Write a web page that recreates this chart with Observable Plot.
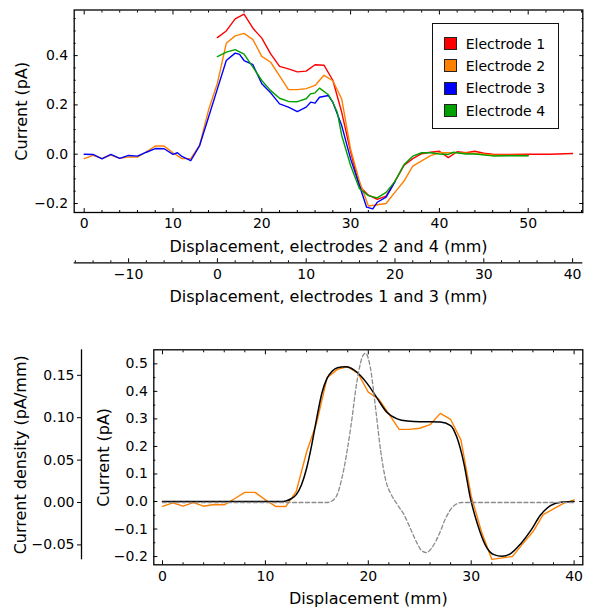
<!DOCTYPE html>
<html><head><meta charset="utf-8">
<script src="https://cdn.jsdelivr.net/npm/d3@7"></script>
<script src="https://cdn.jsdelivr.net/npm/@observablehq/plot@0.6"></script>
<style>
body{margin:0;background:#fff;}
#chart{position:relative;width:590px;height:608px;font-family:"DejaVu Sans",sans-serif;color:#000;}
#chart .layer{position:absolute;left:0;}
#legend{position:absolute;left:431.7px;top:22.7px;width:127.6px;height:106.6px;box-sizing:border-box;border:1.3px solid #111;background:#fff;}
#legend .item{position:absolute;left:0;height:22px;font-size:14px;line-height:22px;white-space:nowrap;}
#legend .sw{position:absolute;left:11.5px;top:4.5px;width:13px;height:13px;box-sizing:border-box;border:1px solid #222;}
#legend .lab{position:absolute;left:33px;top:0;}
</style></head><body><div id="chart"></div>
<script>
// ---------- data ----------
const electrodeNames = ["Electrode 1", "Electrode 2", "Electrode 3", "Electrode 4"];
const electrodeColors = ["#ff0000", "#ff8000", "#0000ff", "#00a000"];
const axisShift13 = 15; // electrodes 1 and 3 axis = electrodes 2 and 4 axis − 15 mm

// Electrode 1 (own axis: electrodes 1 and 3, mm)
const e1X = [0,1,2,3,4,5,6,7,8,9,10,11,12,13,14,15,16,17,18,19,20,21,22,23,24,25,26,27,28,29,30,31,33,35,37.5,40];
const e1Y = [0.473,0.500,0.549,0.568,0.511,0.471,0.407,0.356,0.346,0.334,0.337,0.363,0.361,0.300,0.170,0.010,-0.130,-0.166,-0.183,-0.170,-0.110,-0.046,-0.018,0.002,0.008,0.012,-0.014,0.010,0.006,0.012,0.004,0.000,-0.001,0.000,0.000,0.003];
// Electrode 2 (own axis: electrodes 2 and 4, mm)
const e2X = [0,1,2,3,4,5,6,7,8,9,10,11,12,13,14,15,16,17,18,19,20,21,22,23,24,25,26,27,28,29,30,31,32,34,35,36,37,38,39,40,42,44,46,48,50];
const e2Y = [-0.018,-0.005,-0.017,-0.004,-0.017,-0.011,-0.012,0.010,0.033,0.033,0.006,-0.018,-0.018,0.037,0.179,0.288,0.450,0.480,0.490,0.465,0.397,0.373,0.318,0.262,0.262,0.266,0.279,0.320,0.298,0.224,0.020,-0.110,-0.210,-0.200,-0.154,-0.110,-0.048,-0.027,-0.006,0.006,0.006,0.003,-0.003,-0.004,-0.005];
// Electrode 3 (own axis: electrodes 1 and 3, mm)
const e3X = [-15,-14,-13,-12,-11,-10,-9,-8,-7,-6,-5,-4.5,-4,-3,-2,-1,0,1,2,2.5,3,4,5,6,7,8,9,10,10.5,11,11.5,12.5,13,14,15,16,16.8,17.5,18,19,20];
const e3Y = [0,-0.001,-0.019,-0.001,-0.017,-0.005,-0.008,0.008,0.023,0.022,-0.001,0.006,-0.009,-0.026,0.035,0.150,0.265,0.380,0.410,0.405,0.380,0.363,0.286,0.249,0.204,0.191,0.173,0.191,0.211,0.207,0.231,0.238,0.211,0.116,-0.019,-0.127,-0.215,-0.222,-0.195,-0.174,-0.111];
// Electrode 4 (own axis: electrodes 2 and 4, mm)
const e4X = [15,16,17,18,19,20,21,22,23,24,25,25.5,26,26.5,27.5,28,28.5,29,30,31,32,33,34,35,36,37,38,39,40,41,41.6,43,44,46,50];
const e4Y = [0.396,0.414,0.424,0.406,0.353,0.299,0.258,0.227,0.214,0.213,0.225,0.245,0.249,0.268,0.241,0.210,0.170,0.076,-0.046,-0.140,-0.168,-0.177,-0.155,-0.110,-0.043,-0.008,0.006,0.006,0.001,-0.001,0.008,0.001,0.001,-0.007,-0.006];

// Fitted current (pA) for electrode 2
const fitX = [0,11.5,12,12.5,13,13.5,14,14.5,15,15.5,16,16.5,17,17.8,18.6,19.3,19.9,20.9,21.8,22.8,23.8,25,26,27,28,28.6,29.3,29.9,30.6,31.4,32.2,33,33.8,34.8,35.8,36.7,37.7,38.7,40];
const fitY = [0,0,0.002,0.01,0.025,0.06,0.12,0.205,0.305,0.395,0.448,0.474,0.486,0.489,0.478,0.455,0.428,0.373,0.324,0.300,0.292,0.290,0.290,0.289,0.276,0.234,0.137,0.016,-0.081,-0.160,-0.193,-0.199,-0.190,-0.154,-0.105,-0.051,-0.015,-0.003,0];
// Current density (pA/mm)
const denX = [0,16,16.5,17,17.6,18.3,18.9,19.4,19.73,20.2,20.7,21.2,21.7,22.2,22.8,23.5,24.1,24.7,25.2,25.66,26.2,26.9,27.5,28.3,29.1,40];
const denY = [0,0,0.002,0.01,0.038,0.089,0.143,0.171,0.176,0.159,0.112,0.061,0.026,0.010,-0.002,-0.015,-0.031,-0.047,-0.057,-0.059,-0.053,-0.037,-0.019,-0.004,0,0];

// tick values
const topXTicks = [0,10,20,30,40,50];
const topYTicks = [-0.2,0,0.2,0.4];
const secXTicks = [-10,0,10,20,30,40];
const botXTicks = [0,10,20,30,40];
const botYTicks = [-0.2,-0.1,0,0.1,0.2,0.3,0.4,0.5];
const denTicks = [-0.05,0,0.05,0.10,0.15];

// labels
const topXLabel = "Displacement, electrodes 2 and 4 (mm)";
const secXLabel = "Displacement, electrodes 1 and 3 (mm)";
const topYLabel = "Current (pA)";
const botXLabel = "Displacement (mm)";
const botYLabel = "Current (pA)";
const denLabel = "Current density (pA/mm)";

// ---------- helpers ----------
const rows = (xs, ys, shift = 0) => xs.map((x, i) => ({x: x + shift, y: ys[i]}));
const minorRange = (a, b, step, majors) => d3.range(Math.round(a / step), Math.round(b / step) + 1)
  .map(k => +(k * step).toFixed(4)).filter(v => !majors.some(m => Math.abs(m - v) < 1e-9));
const blank = () => "";
const fmt1 = d3.format(".1f"), fmt2 = d3.format(".2f");
const LABEL = 16;
const style = {background: "transparent", fontFamily: "DejaVu Sans", fontSize: "14px", color: "#000", overflow: "visible"};
const xLab = (t, dy) => Plot.text([t], {text: d => d, frameAnchor: "bottom", dy, lineAnchor: "middle", textAnchor: "middle", fontSize: LABEL});
const yLab = (t, dx) => Plot.text([t], {text: d => d, frameAnchor: "left", dx, rotate: -90, lineAnchor: "middle", textAnchor: "middle", fontSize: LABEL});

function boxAxes(xMaj, xMin, yMaj, yMin, xFmt, yFmt) {
  const o = {label: null, strokeWidth: 1, fontSize: 14};
  return [
    Plot.axisX(xMaj, {...o, anchor: "bottom", tickSize: -4, tickPadding: 10, tickFormat: xFmt}),
    Plot.axisX(xMin, {...o, anchor: "bottom", tickSize: -2, tickFormat: blank}),
    Plot.axisX(xMaj, {...o, anchor: "top", tickSize: -4, tickFormat: blank}),
    Plot.axisX(xMin, {...o, anchor: "top", tickSize: -2, tickFormat: blank}),
    Plot.axisY(yMaj, {...o, anchor: "left", tickSize: -4, tickPadding: 10, tickFormat: yFmt}),
    Plot.axisY(yMin, {...o, anchor: "left", tickSize: -2, tickFormat: blank}),
    Plot.axisY(yMaj, {...o, anchor: "right", tickSize: -4, tickFormat: blank}),
    Plot.axisY(yMin, {...o, anchor: "right", tickSize: -2, tickFormat: blank})
  ];
}

const chart = document.getElementById("chart");
function mount(svg, top) {
  const d = document.createElement("div");
  d.className = "layer"; d.style.top = top + "px";
  d.appendChild(svg); chart.appendChild(d);
}

// ---------- top chart ----------
const topXDomain = [-1.126, 56.149];
const series = [
  rows(e1X, e1Y, axisShift13),
  rows(e2X, e2Y),
  rows(e3X, e3Y, axisShift13),
  rows(e4X, e4Y)
];
const topPlot = Plot.plot({
  width: 590, height: 256,
  marginLeft: 73.7, marginRight: 7.7, marginTop: 9.5, marginBottom: 44,
  style,
  x: {domain: topXDomain},
  y: {domain: [-0.2365, 0.585]},
  marks: [
    ...series.map((s, i) => Plot.line(s, {x: "x", y: "y", stroke: electrodeColors[i], strokeWidth: 1.4})),
    ...boxAxes(topXTicks, minorRange(0, 56, 2, topXTicks), topYTicks, minorRange(-0.2, 0.55, 0.05, topYTicks), d3.format("d"), fmt1),
    Plot.frame({stroke: "#000", strokeWidth: 1.3}),
    xLab(topXLabel, 34.7),
    yLab(topYLabel, -52)
  ]
});
mount(topPlot, 0);

// secondary axis (electrodes 1 and 3)
const secPlot = Plot.plot({
  width: 590, height: 54,
  marginLeft: 73.7, marginRight: 7.7, marginTop: 0, marginBottom: 47.7,
  style,
  x: {domain: topXDomain.map(v => v - axisShift13)},
  y: {domain: [0, 1], axis: null},
  marks: [
    Plot.ruleY([0], {stroke: "#000", strokeWidth: 1.3}),
    Plot.axisX(secXTicks, {anchor: "bottom", label: null, fontSize: 14, tickSize: -4, tickPadding: 10, tickFormat: d3.format("d")}),
    Plot.axisX(minorRange(-16, 40, 2, secXTicks), {anchor: "bottom", label: null, tickSize: -2, tickFormat: blank}),
    xLab(secXLabel, 33.7)
  ]
});
mount(secPlot, 256);

// legend
const legend = document.createElement("div");
legend.id = "legend";
electrodeNames.forEach((name, i) => {
  const it = document.createElement("div");
  it.className = "item";
  it.style.top = (9 + i * 22.3) + "px";
  it.innerHTML = `<span class="sw" style="background:${electrodeColors[i]}"></span><span class="lab">${name}</span>`;
  legend.appendChild(it);
});
chart.appendChild(legend);

// ---------- bottom chart ----------
const botXDomain = [-0.845, 40.846];
const e2Bottom = rows(e2X, e2Y).filter(d => d.x <= 40);
const botPlot = Plot.plot({
  width: 590, height: 298,
  marginLeft: 153.3, marginRight: 7.7, marginTop: 39.3, marginBottom: 43.7,
  style,
  x: {domain: botXDomain},
  y: {domain: [-0.2299, 0.551]},
  marks: [
    Plot.line(e2Bottom, {x: "x", y: "y", stroke: electrodeColors[1], strokeWidth: 1.4}),
    Plot.line(rows(fitX, fitY), {x: "x", y: "y", stroke: "#000", strokeWidth: 1.5, curve: "monotone-x"}),
    ...boxAxes(botXTicks, minorRange(0, 40, 2, botXTicks), botYTicks, minorRange(-0.2, 0.5, 0.05, botYTicks), d3.format("d"), fmt1),
    Plot.frame({stroke: "#000", strokeWidth: 1.3}),
    xLab(botXLabel, 33.7),
    yLab(botYLabel, -50.3)
  ]
});
mount(botPlot, 310);

// density curve overlay (same frame, density scale)
const denPlot = Plot.plot({
  width: 590, height: 298,
  marginLeft: 153.3, marginRight: 7.7, marginTop: 39.3, marginBottom: 43.7,
  style,
  x: {domain: botXDomain, axis: null},
  y: {domain: [-0.07347, 0.18007], axis: null},
  marks: [
    Plot.line(rows(denX, denY), {x: "x", y: "y", stroke: "#8c8c8c", strokeWidth: 1.3, strokeDasharray: "4,2.5", curve: "monotone-x"})
  ]
});
mount(denPlot, 310);

// density axis
const denAxis = Plot.plot({
  width: 590, height: 298,
  marginLeft: 81, marginRight: 437, marginTop: 39.3, marginBottom: 48.7,
  style,
  x: {domain: [0, 1], axis: null},
  y: {domain: [-0.06757, 0.18007]},
  marks: [
    Plot.ruleX([0], {stroke: "#000", strokeWidth: 1.3}),
    Plot.axisY(denTicks, {anchor: "left", label: null, fontSize: 14, tickSize: 4, tickPadding: 3, tickFormat: fmt2}),
    yLab(denLabel, -61)
  ]
});
mount(denAxis, 310);
</script></body></html>
